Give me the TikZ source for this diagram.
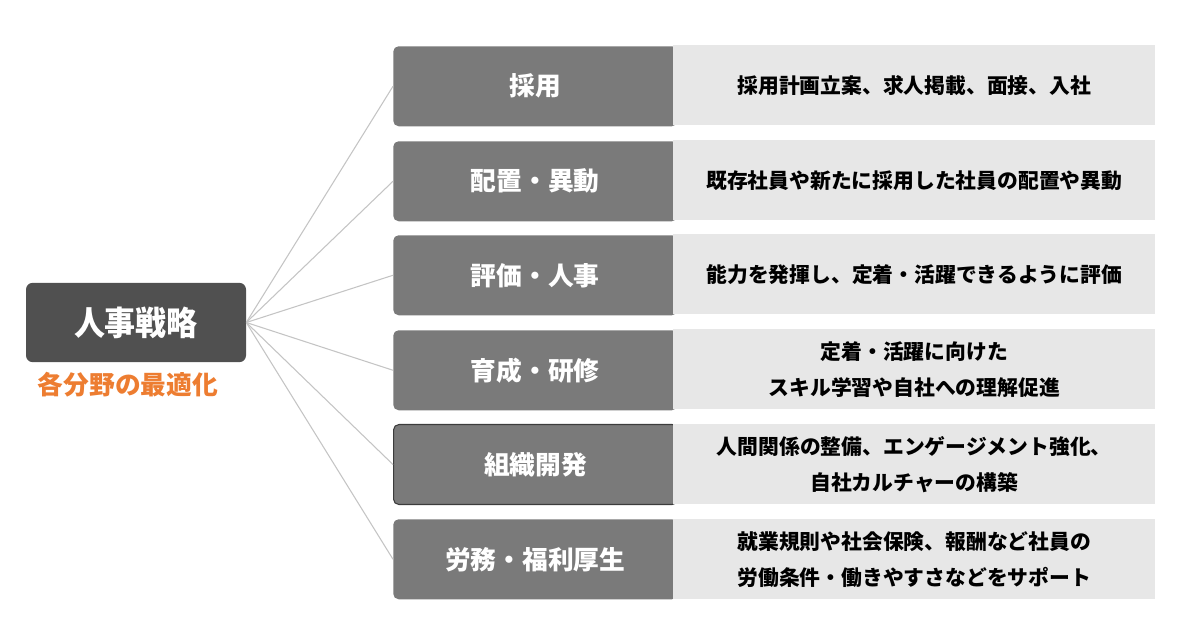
\documentclass[tikz,border=0pt]{standalone}
\usepackage{fontspec}
\newfontfamily\jpT{Noto Sans CJK JP}
\newfontfamily\jpL[FakeStretch=0.93]{Noto Sans CJK JP}
\newfontfamily\jpO{Noto Sans CJK JP}
\definecolor{leftbox}{HTML}{505050}
\definecolor{titlebox}{HTML}{7A7A7A}
\definecolor{descbox}{HTML}{E7E7E7}
\definecolor{linkline}{HTML}{C4C4C4}
\definecolor{accent}{HTML}{ED7D31}
\definecolor{darkborder}{HTML}{3C3C3C}
\begin{document}
\begin{tikzpicture}[x=0.75pt,y=-0.75pt,
  mainbox/.style={fill=leftbox,rounded corners=5pt,minimum width=165pt,minimum height=59.5pt,inner sep=0pt,text=white,font=\jpL\bfseries\fontsize{25}{30}\selectfont},
  titlebox/.style={fill=titlebox,rounded corners=4pt,minimum width=213pt,minimum height=60pt,inner sep=0pt,anchor=north west,text=white,font=\jpT\bfseries\fontsize{19.3}{22}\selectfont},
  descbox/.style={fill=descbox,minimum width=361.5pt,minimum height=60pt,inner sep=0pt,anchor=north west,align=center,text=black,font=\jpT\bfseries\fontsize{15.6}{27}\selectfont},
  link/.style={draw=linkline,line width=0.8pt}]
\useasboundingbox (0,0) rectangle (1200,641);
\node[mainbox] (main) at (136,322.5) {人事戦略};
\node[text=accent,font=\jpO\bfseries\fontsize{19.3}{22}\selectfont,inner sep=0pt] (sub) at (128,385) {各分野の最適化};
% rows
\node[titlebox] (t1) at (393,46) {};
\node[titlebox] (t2) at (393,141) {};
\node[titlebox] (t3) at (393,235) {};
\node[titlebox] (t4) at (393,330) {};
\node[titlebox,draw=darkborder,line width=0.8pt] (t5) at (393,424) {};
\node[titlebox] (t6) at (393,519) {};
\node[descbox] (d1) at (673,45) {採用計画立案、求人掲載、面接、入社};
\node[descbox] (d2) at (673,140) {既存社員や新たに採用した社員の配置や異動};
\node[descbox] (d3) at (673,234) {能力を発揮し、定着・活躍できるように評価};
\node[descbox] (d4) at (673,329) {定着・活躍に向けた\\スキル学習や自社への理解促進};
\node[descbox] (d5) at (673,424) {人間関係の整備、エンゲージメント強化、\\自社カルチャーの構築};
\node[descbox] (d6) at (673,519) {就業規則や社会保険、報酬など社員の\\労働条件・働きやすさなどをサポート};
\foreach \i/\t in {1/採用,2/配置・異動,3/評価・人事,4/育成・研修,5/組織開発,6/労務・福利厚生}{
  \node[text=white,font=\jpT\bfseries\fontsize{19.3}{22}\selectfont,inner sep=0pt] (l\i) at (t\i.center) {\t};
}
\foreach \i in {1,...,6}{
  \draw[link] (main.east) -- (t\i.west);
}
\end{tikzpicture}
\end{document}
